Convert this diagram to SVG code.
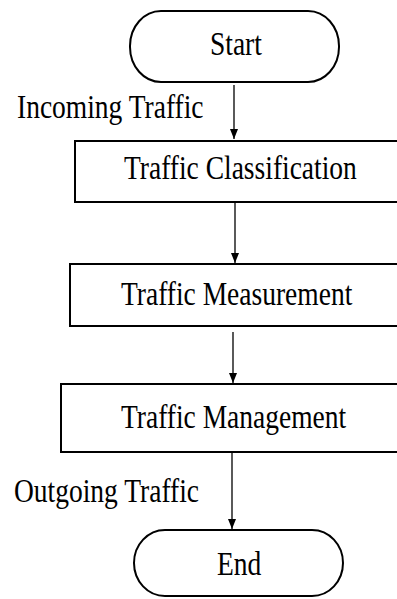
<svg xmlns="http://www.w3.org/2000/svg" width="397" height="599" viewBox="0 0 397 599">
<style>
.shape{fill:#fff;stroke:#000;stroke-width:2}
.lbl{font-family:"Liberation Serif","Times New Roman",serif;font-size:27.5px;fill:#000}
.conn{stroke:#000;stroke-width:1.3;fill:none}
</style>
<defs>
<marker id="ah" markerUnits="userSpaceOnUse" markerWidth="10" markerHeight="8" viewBox="0 0 10 8" refX="10" refY="4" orient="auto">
<path d="M0,0 L10,4 L0,8 z" fill="#000"/>
</marker>
</defs>
<rect width="397" height="599" fill="#fff"/>
<g id="start">
<rect class="shape" x="130" y="11" width="209" height="71" rx="31" ry="35"/>
<text class="lbl" transform="translate(210,55) scale(1,1.25)">Start</text>
</g>
<g id="classification">
<rect class="shape" x="75" y="141" width="340" height="61"/>
<text class="lbl" transform="translate(124,179) scale(1,1.25)">Traffic Classification</text>
</g>
<g id="measurement">
<rect class="shape" x="70" y="264" width="345" height="62"/>
<text class="lbl" transform="translate(121,305) scale(1,1.25)">Traffic Measurement</text>
</g>
<g id="management">
<rect class="shape" x="61" y="384" width="354" height="68"/>
<text class="lbl" transform="translate(121,428) scale(1,1.25)">Traffic Management</text>
</g>
<g id="end">
<rect class="shape" x="134" y="530" width="209" height="66" rx="31" ry="33"/>
<text class="lbl" transform="translate(217,575) scale(1,1.25)">End</text>
</g>
<g id="connectors">
<line class="conn" x1="234" y1="85" x2="234" y2="139" marker-end="url(#ah)"/>
<line class="conn" x1="235" y1="203" x2="235" y2="263" marker-end="url(#ah)"/>
<line class="conn" x1="233" y1="332" x2="233" y2="383" marker-end="url(#ah)"/>
<line class="conn" x1="232" y1="453" x2="232" y2="529" marker-end="url(#ah)"/>
<text class="lbl" transform="translate(17,118) scale(1,1.25)">Incoming Traffic</text>
<text class="lbl" transform="translate(14,502) scale(1,1.25)">Outgoing Traffic</text>
</g>
</svg>
